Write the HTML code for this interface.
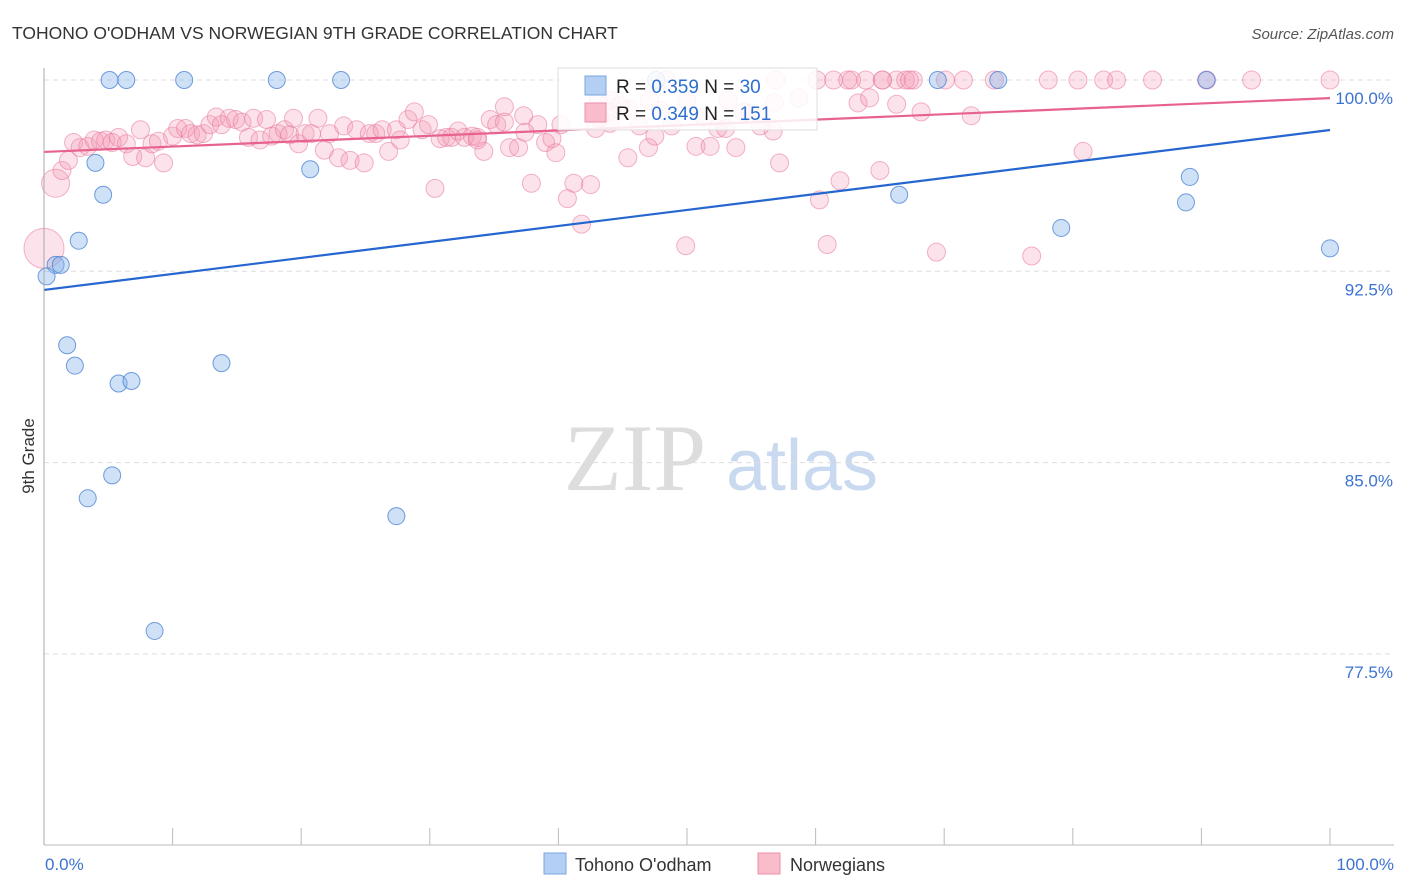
<!DOCTYPE html>
<html><head><meta charset="utf-8"><style>
body{margin:0;background:#fff;font-family:"Liberation Sans",sans-serif;}
svg{display:block}
</style></head><body>
<svg width="1406" height="892" xmlns="http://www.w3.org/2000/svg">
<text x="12" y="39" font-size="17.5" fill="#333">TOHONO O'ODHAM VS NORWEGIAN 9TH GRADE CORRELATION CHART</text>
<text x="1394" y="39" font-size="15" fill="#555" font-style="italic" text-anchor="end">Source: ZipAtlas.com</text>
<g>
<text x="635" y="490" font-size="95" fill="#ddd" font-family="Liberation Serif,serif" text-anchor="middle">ZIP</text>
<text x="802" y="490" font-size="72" fill="#c9daf0" text-anchor="middle">atlas</text>
</g>
<g id="grid"></g>
<g id="marks"></g>
<g id="axes"></g>
<text transform="translate(34,456) rotate(-90)" font-size="17" fill="#333" text-anchor="middle">9th Grade</text>
<g>
<rect x="558" y="68" width="259" height="62" fill="#fff" fill-opacity="0.85" stroke="#ddd"/>
<rect x="585" y="76" width="21" height="19" fill="#b3cff3" stroke="#7aa5e0"/>
<rect x="585" y="103" width="21" height="19" fill="#f8bccb" stroke="#ee8fab"/>
<text x="616" y="93" font-size="19" fill="#222">R = <tspan fill="#2d6fd0">0.359</tspan>   N = <tspan fill="#2d6fd0">30</tspan></text>
<text x="616" y="120" font-size="19" fill="#222">R = <tspan fill="#2d6fd0">0.349</tspan>   N = <tspan fill="#2d6fd0">151</tspan></text>
</g>
<g>
<rect x="544" y="853" width="22" height="21" fill="#b3cff3" stroke="#7aa5e0"/>
<text x="575" y="871" font-size="18" fill="#333">Tohono O'odham</text>
<rect x="758" y="853" width="22" height="21" fill="#f8bccb" stroke="#ee8fab"/>
<text x="790" y="871" font-size="18" fill="#333">Norwegians</text>
</g>
</svg>
<script>
const blueX=[5.1,6.4,10.9,18.1,23.1,47.6,69.5,74.2,90.4,4.0,4.6,20.7,2.7,0.9,1.3,0.2,1.8,2.4,5.8,6.8,13.8,5.3,3.4,27.4,8.6,66.5,79.1,89.1,88.8,100];
const blueY=[100,100,100,100,100,100,100,100,100,96.75,95.5,96.5,93.7,92.75,92.75,92.3,89.6,88.8,88.1,88.2,88.9,84.5,83.6,82.9,78.4,95.5,94.2,96.2,95.2,93.4];
const pinkX=[60.1,61.4,62.5,63.9,65.2,66.3,67.0,67.6,70.1,71.5,73.9,78.1,80.4,82.4,83.4,86.2,90.4,93.9,100,56.9,48.4,65.2,62.8,67.3,
43.1,44.0,47.1,50.0,53.2,58.7,63.3,64.2,66.3,68.2,72.1,56.8,43.9,45.5,
0.9,0,1.4,1.9,2.3,2.8,3.4,3.9,4.4,4.8,5.3,5.8,6.4,6.9,7.5,7.9,8.4,8.9,9.3,10.0,10.4,11.0,11.4,11.9,12.4,12.9,13.4,13.8,14.4,14.9,15.4,15.9,16.3,16.8,17.3,17.7,18.2,18.7,19.1,19.4,19.8,20.3,20.8,21.3,21.8,22.2,22.9,23.3,23.8,24.3,24.9,25.3,25.8,26.3,26.8,27.4,27.7,28.3,28.8,29.4,29.9,30.4,30.8,31.3,31.7,32.2,32.7,33.3,33.7,34.2,34.7,35.2,35.8,36.2,36.9,37.3,37.9,38.4,39.0,39.5,39.8,40.2,40.7,41.2,41.8,42.5,42.9,44.0,45.4,46.3,47.0,47.9,48.8,49.9,50.7,51.3,51.8,52.4,53.0,53.8,54.4,54.9,55.7,56.7,57.2,60.3,60.9,61.9,65.0,69.4,76.8,80.8,35.8,33.7,37.4,43.2,44.8,47.5];
const pinkY=[100,100,100,100,100,100,100,100,100,100,100,100,100,100,100,100,100,100,100,100,100,100,100,100,
99.2,99.2,99.2,99.2,99.2,99.3,99.1,99.3,99.05,98.75,98.6,99.1,98.75,98.85,
95.95,93.4,96.45,96.85,97.55,97.35,97.4,97.65,97.6,97.65,97.55,97.75,97.5,97.0,98.05,96.95,97.5,97.6,96.75,97.8,98.1,98.1,97.9,97.85,97.9,98.25,98.55,98.25,98.5,98.45,98.35,97.75,98.5,97.65,98.45,97.8,97.9,98.05,97.85,98.5,97.5,97.9,97.9,98.5,97.25,97.9,96.95,98.2,96.85,98.05,96.75,97.9,97.9,98.05,97.2,98.05,97.65,98.45,98.75,98.05,98.25,95.75,97.7,97.75,97.75,98.0,97.75,97.8,97.75,97.2,98.45,98.25,98.35,97.35,97.35,98.6,95.95,98.25,97.55,97.7,97.15,98.25,95.35,95.95,94.35,95.9,98.1,98.3,96.95,98.2,97.35,98.8,98.2,93.5,97.4,98.55,97.4,98.1,98.1,97.35,98.75,98.7,98.2,98.0,96.75,95.3,93.55,96.05,96.45,93.25,93.1,97.2,98.95,97.65,97.95,98.5,99.0,97.8];
const pinkBig=[14,20];
const blueTrend=[91.77,98.04];
const pinkTrend=[97.18,99.29];
const yTicks=[100,92.5,85,77.5];
const yTickLabels=["100.0%","92.5%","85.0%","77.5%"];
const xEndLabels=["0.0%","100.0%"];

const X0=44,X1=1330,YTOP=80,PXPER=191.3/7.5,YMAX=100,YMIN=70;
const sx=v=>X0+(X1-X0)*v/100;
const sy=v=>YTOP+(YMAX-v)*PXPER;
const NS="http://www.w3.org/2000/svg";
function mk(tag,attrs,parent){const e=document.createElementNS(NS,tag);for(const k in attrs)e.setAttribute(k,attrs[k]);parent.appendChild(e);return e;}
const grid=document.getElementById('grid'),marks=document.getElementById('marks'),axes=document.getElementById('axes');
yTicks.forEach((t,i)=>{
 const l=mk('line',{x1:X0,x2:1394,y1:sy(t),y2:sy(t),stroke:'#ddd','stroke-dasharray':'5,4'},grid);
 
 
 const tx=mk('text',{x:1393,y:sy(t)+24,'font-size':17,fill:'#3d73d0','text-anchor':'end'},grid);
 tx.textContent=yTickLabels[i];
 
 
});
for(let i=0;i<=10;i++){
 const l=mk('line',{x1:sx(i*10),x2:sx(i*10),y1:828,y2:845,stroke:'#bbb'},axes);
 
 
}
let a=mk('line',{x1:X0,x2:X0,y1:68,y2:845,stroke:'#aaa'},axes);


a=mk('line',{x1:X0,x2:1394,y1:845,y2:845,stroke:'#bbb'},axes);


[[0,'start',45],[100,'end',1394]].forEach((d,i)=>{
 const t=mk('text',{x:d[2],y:870,'font-size':17,fill:'#3d73d0','text-anchor':d[1]},axes);
 t.textContent=xEndLabels[i];
 
 
});
pinkX.forEach((x,i)=>{
 const r=i===38?pinkBig[0]:(i===39?pinkBig[1]:9);
 const c=mk('circle',{cx:sx(x),cy:sy(pinkY[i]),r:r,fill:'rgba(245,150,180,0.28)',stroke:'rgba(232,120,155,0.55)','stroke-width':1},marks);
 
 
});
blueX.forEach((x,i)=>{
 const c=mk('circle',{cx:sx(x),cy:sy(blueY[i]),r:8.5,fill:'rgba(130,175,235,0.38)',stroke:'rgba(70,125,210,0.75)','stroke-width':1},marks);
 
 
});
let tl=mk('line',{x1:sx(0),y1:sy(blueTrend[0]),x2:sx(100),y2:sy(blueTrend[1]),stroke:'#2566d0','stroke-width':2.2},marks);


tl=mk('line',{x1:sx(0),y1:sy(pinkTrend[0]),x2:sx(100),y2:sy(pinkTrend[1]),stroke:'#e8628f','stroke-width':2.2},marks);


</script>
</body></html>
